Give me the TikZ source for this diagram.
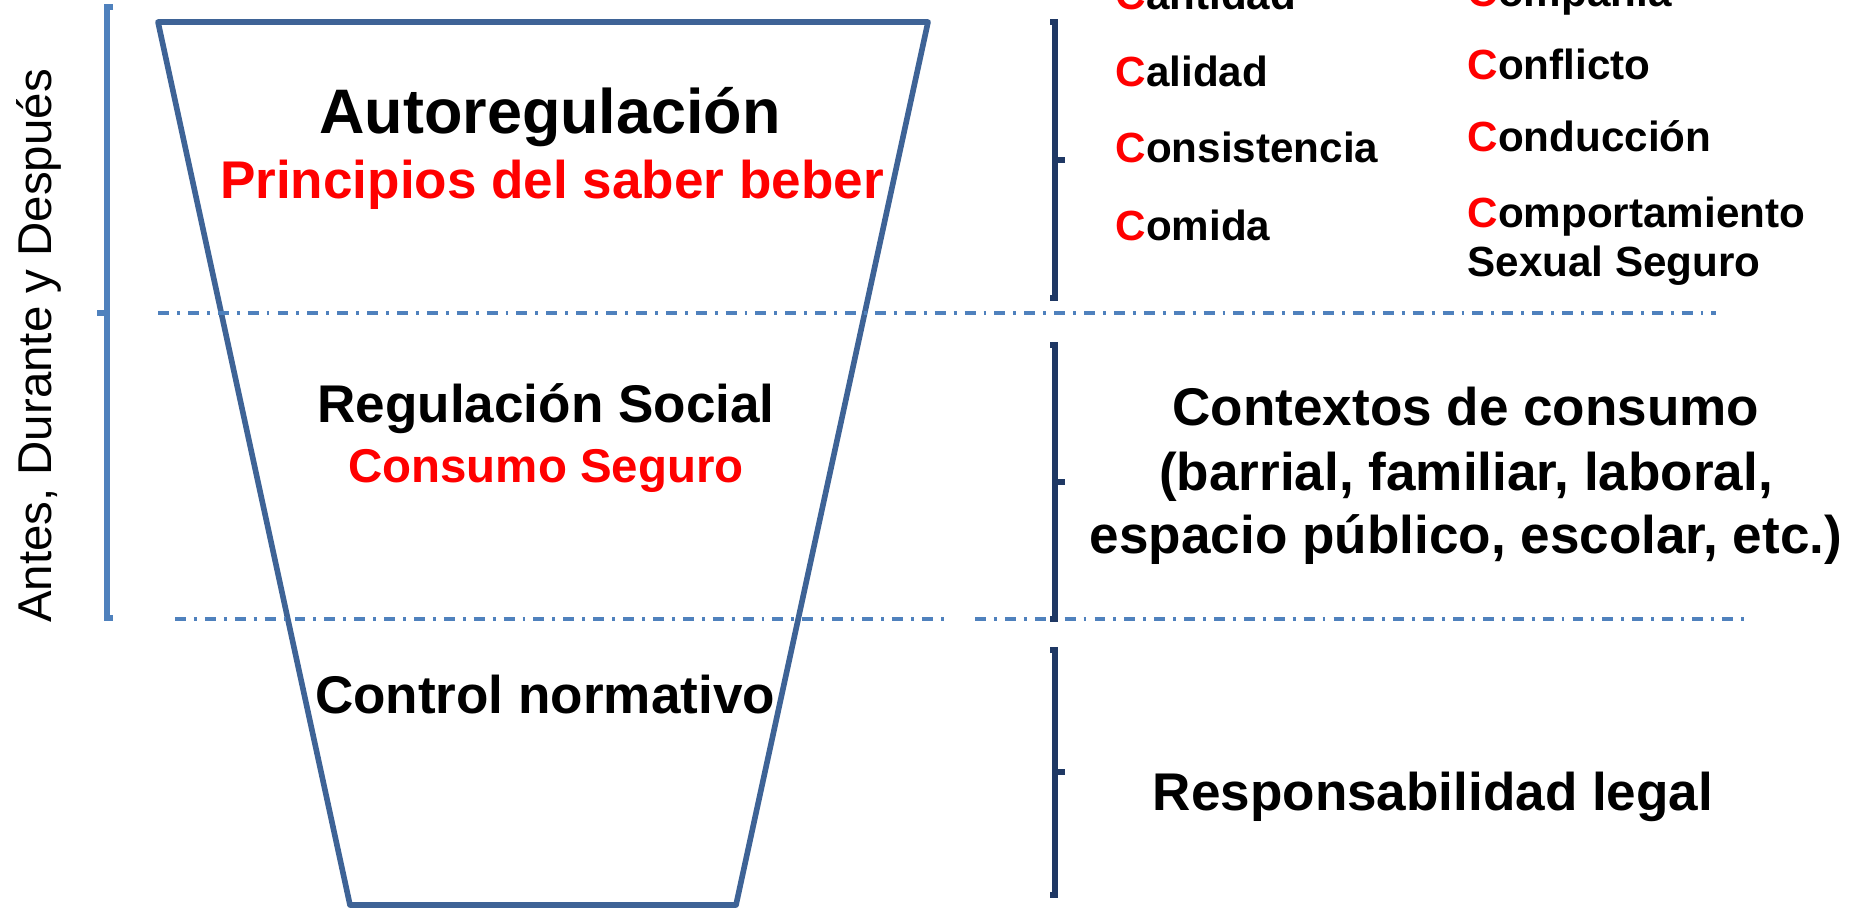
\documentclass[tikz,border=0pt]{standalone}
\usepackage{fontspec}
\setmainfont{Liberation Sans}

\definecolor{trapecio}{HTML}{3E6396}
\definecolor{guia}{HTML}{4F81BD}
\definecolor{azuloscuro}{HTML}{1F3864}

\begin{document}
\begin{tikzpicture}[
    grande/.style={font=\bfseries\fontsize{17.9}{21}\selectfont, anchor=base, inner sep=0pt},
    medio/.style={font=\bfseries\fontsize{15.1}{18}\selectfont, anchor=base, inner sep=0pt},
    chico/.style={font=\bfseries\fontsize{13.5}{16}\selectfont, anchor=base, inner sep=0pt},
    palabra/.style={font=\bfseries\fontsize{12}{14}\selectfont, anchor=base west, inner sep=0pt},
    corte/.style={guia, line width=0.9pt, dash pattern=on 3.1pt off 2.3pt on 0.8pt off 2.3pt},
    corchete/.style={azuloscuro, line width=1.5pt}]
    % 画布范围
    \useasboundingbox (0,0) rectangle (18.6,9.09);
    \clip (0,0) rectangle (18.6,9.09);

    % 漏斗
    \coordinate (TL) at (1.58, 8.87);
    \coordinate (TR) at (9.28, 8.87);
    \coordinate (BR) at (7.36, 0.04);
    \coordinate (BL) at (3.50, 0.04);
    \draw[trapecio, line width=1.6pt, line join=round] (TL) -- (TR) -- (BR) -- (BL) -- cycle;

    % 分隔虚线
    \draw[corte] (1.58, 5.96) -- (17.16, 5.96);
    \draw[corte] (1.75, 2.90) -- (9.45, 2.90);
    \draw[corte] (9.75, 2.90) -- (17.45, 2.90);

    % 左侧括号和时间
    \draw[guia, line width=1.5pt] (1.13, 9.02) -- (1.07, 9.02) -- (1.07, 2.91) -- (1.13, 2.91);
    \draw[guia, line width=1.5pt] (1.07, 5.96) -- (0.97, 5.96);
    \node[rotate=90, anchor=base, inner sep=0pt, font=\fontsize{13.5}{16}\selectfont] (tiempo) at (0.51, 5.63) {Antes, Durante y Después};

    % 漏斗里的文字
    \node[grande] (auto) at (5.50, 7.75) {Autoregulación};
    \node[medio, red] (saber) at (5.52, 7.10) {Principios del saber beber};
    \node[medio] (social) at (5.46, 4.86) {Regulación Social};
    \node[chico, red] (seguro) at (5.46, 4.27) {Consumo Seguro};
    \node[medio] (control) at (5.45, 1.96) {Control normativo};

    % 右侧括号
    \draw[corchete] (10.50, 8.87) -- (10.55, 8.87) -- (10.55, 6.11) -- (10.50, 6.11);
    \draw[corchete] (10.55, 7.49) -- (10.65, 7.49);
    \draw[corchete] (10.50, 5.64) -- (10.55, 5.64) -- (10.55, 2.90) -- (10.50, 2.90);
    \draw[corchete] (10.55, 4.27) -- (10.65, 4.27);
    \draw[corchete] (10.50, 2.59) -- (10.55, 2.59) -- (10.55, 0.14) -- (10.50, 0.14);
    \draw[corchete] (10.55, 1.37) -- (10.65, 1.37);

    % 七个 C
    \node[palabra] (cantidad) at (11.15, 8.99) {{\color{red}C}antidad};
    \node[palabra] (calidad) at (11.15, 8.22) {{\color{red}C}alidad};
    \node[palabra] (consistencia) at (11.15, 7.46) {{\color{red}C}onsistencia};
    \node[palabra] (comida) at (11.15, 6.68) {{\color{red}C}omida};
    \node[palabra] (compania) at (14.67, 9.02) {{\color{red}C}ompañía};
    \node[palabra] (conflicto) at (14.67, 8.29) {{\color{red}C}onflicto};
    \node[palabra] (conduccion) at (14.67, 7.57) {{\color{red}C}onducción};
    \node[palabra] (comport) at (14.67, 6.81) {{\color{red}C}omportamiento};
    \node[palabra] (sexual) at (14.67, 6.32) {Sexual Seguro};

    % 右侧说明
    \node[medio] (ctx1) at (14.66, 4.84) {Contextos de consumo};
    \node[medio] (ctx2) at (14.66, 4.19) {(barrial, familiar, laboral,};
    \node[medio] (ctx3) at (14.66, 3.56) {espacio público, escolar, etc.)};
    \node[medio] (legal) at (14.33, 0.99) {Responsabilidad legal};
\end{tikzpicture}
\end{document}
